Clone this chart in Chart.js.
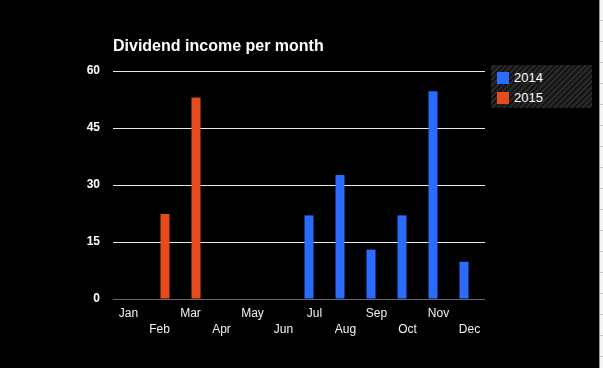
<!DOCTYPE html>
<html>
<head>
<meta charset="utf-8">
<script src="https://cdn.jsdelivr.net/npm/chart.js@4/dist/chart.umd.min.js"></script>
<style>
  html, body { margin: 0; padding: 0; background: #000; }
  body { width: 603px; height: 368px; position: relative; overflow: hidden; font-family: "Liberation Sans", Arial, sans-serif; }
  #wrap { position: absolute; left: 0; top: 0; width: 599px; height: 368px; }
  #title { position: absolute; left: 113px; top: 37px; color: #fff; font-weight: bold; font-size: 16px; line-height: 18px; white-space: nowrap; }
  #legend {
    position: absolute; left: 491px; top: 65px; width: 101px; height: 43px;
    background: repeating-linear-gradient(135deg, #151515 0px, #151515 2px, #2a2a2a 2px, #2a2a2a 4px);
  }
  .item { position: absolute; left: 6px; height: 14px; color: #fff; font-size: 13px; line-height: 14px; white-space: nowrap; }
  .item i { position: absolute; left: 0; top: 1px; width: 12px; height: 12px; }
  .item span { position: absolute; left: 17px; top: 0; }
  #edge {
    position: absolute; left: 599px; top: 0; width: 4px; height: 368px;
    border-left: 1px solid #9a9a9a; box-sizing: border-box;
    background: repeating-linear-gradient(180deg, #f4f4f4 0px, #f4f4f4 20px, #c8c8c8 20px, #c8c8c8 21px);
  }
</style>
</head>
<body>
<div id="wrap"><canvas id="chart" width="599" height="368"></canvas></div>
<div id="title">Dividend income per month</div>
<div id="legend"></div>
<div id="edge"></div>
<script>
// values
const months = ['Jan', 'Feb', 'Mar', 'Apr', 'May', 'Jun', 'Jul', 'Aug', 'Sep', 'Oct', 'Nov', 'Dec'];
const income2014 = [null, null, null, null, null, null, 22, 32.6, 13, 22, 54.7, 9.8];
const income2015 = [null, 22.4, 53, null, null, null, null, null, null, null, null, null];
const yTicks = [0, 15, 30, 45, 60];

const blue = '#2a6cff';
const orange = '#e54b1c';

Chart.defaults.font.family = '"Liberation Sans", Arial, sans-serif';

// staggered month labels: even months on the first line, odd on the second
const staggered = months.map((m, i) => (i % 2 === 0 ? [m, ''] : ['', m]));

const chart = new Chart(document.getElementById('chart'), {
  type: 'bar',
  data: {
    labels: staggered,
    datasets: [
      { label: '2014', data: income2014, backgroundColor: blue },
      { label: '2015', data: income2015, backgroundColor: orange }
    ]
  },
  options: {
    responsive: false,
    animation: false,
    layout: { padding: { top: 71, right: 114, bottom: 9, left: 0 } },
    datasets: {
      bar: { categoryPercentage: 0.71, barPercentage: 0.82 }
    },
    plugins: {
      legend: { display: false },
      title: { display: false },
      tooltip: { enabled: false }
    },
    scales: {
      x: {
        grid: { display: false },
        border: { display: false },
        ticks: {
          color: '#f2f2f2',
          font: { size: 12, lineHeight: 1.34 },
          padding: -1,
          maxRotation: 0,
          autoSkip: false
        },
        afterFit: (scale) => { scale.height = 60; }
      },
      y: {
        min: 0,
        max: 60,
        afterBuildTicks: (scale) => { scale.ticks = yTicks.map(v => ({ value: v })); },
        grid: {
          drawTicks: false,
          color: (ctx) => (ctx.tick && ctx.tick.value === 0 ? '#6a6a6a' : '#e8e8e8')
        },
        border: { display: false },
        ticks: {
          color: '#ffffff',
          font: { size: 12, weight: 'bold' },
          padding: 13
        },
        afterFit: (scale) => { scale.width = 113; }
      }
    }
  }
});

// html legend built from the datasets
const legendEl = document.getElementById('legend');
chart.data.datasets.forEach((ds, i) => {
  const item = document.createElement('div');
  item.className = 'item';
  item.style.top = (6 + i * 20) + 'px';
  item.innerHTML = '<i style="background:' + ds.backgroundColor + '"></i><span>' + ds.label + '</span>';
  legendEl.appendChild(item);
});
</script>
</body>
</html>
